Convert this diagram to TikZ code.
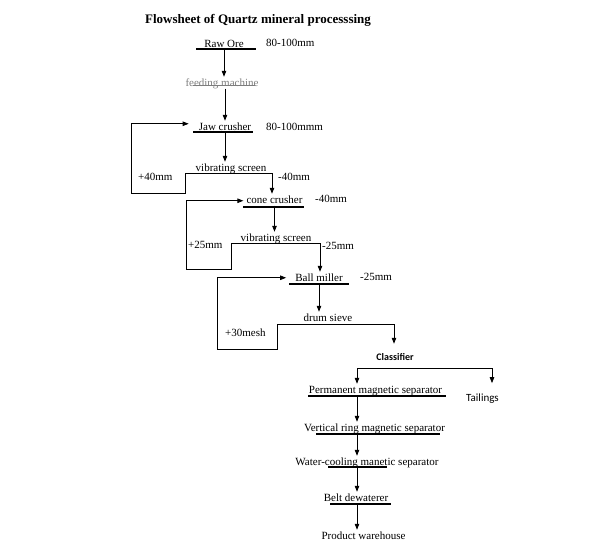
\documentclass[tikz,border=0pt]{standalone}
\usepackage{fontspec}
\setmainfont{Liberation Serif}
\newfontfamily\carlito{Carlito}
\usetikzlibrary{arrows.meta}
\newcommand{\tx}{\fontsize{11}{13}\selectfont}
\definecolor{grisfeed}{RGB}{125,125,125}
\tikzstyle{etape}=[font=\tx, inner xsep=1pt, inner ysep=1pt, text height=8pt, text depth=1.5pt, anchor=base]
\tikzstyle{taille}=[font=\tx, inner sep=0pt, anchor=base west]
\tikzstyle{souligne}=[line width=1.1pt]
\tikzstyle{trait}=[line width=0.8pt]
\tikzstyle{fleche}=[trait, -{Triangle[length=6pt,width=4.5pt]}]

\begin{document}
\begin{tikzpicture}[x=1pt,y=-1pt]
\useasboundingbox (0,0) rectangle (600,544);

\node[font=\fontsize{13}{15}\selectfont\bfseries] (titre) at (258,20) {Flowsheet of Quartz mineral processsing};

% crushing
\node[etape] (raw) at (224,47) {Raw Ore};
\node[taille] (rawmm) at (266,46) {80-100mm};
\node[etape,text=grisfeed] (feed) at (222,86) {feeding machine};
\node[etape] (jaw) at (225,130) {Jaw crusher};
\node[taille] (jawmm) at (266,130) {80-100mmm};
\node[etape] (vsa) at (231,171) {vibrating screen};
\node[taille] (vsaplus) at (138,180) {+40mm};
\node[taille] (vsamoins) at (278,180) {-40mm};
\node[etape] (cone) at (274.5,203) {cone crusher};
\node[taille] (conemm) at (315,202) {-40mm};
\node[etape] (vsb) at (276,241) {vibrating screen};
\node[taille] (vsbplus) at (188,248) {+25mm};
\node[taille] (vsbmoins) at (322,249) {-25mm};

% grinding
\node[etape] (ball) at (319,281) {Ball miller};
\node[taille] (ballmm) at (360,280) {-25mm};
\node[etape] (drum) at (328,321) {drum sieve};
\node[taille] (drumplus) at (225,336) {+30mesh};
\node[font=\carlito\fontsize{10}{12}\selectfont\bfseries, anchor=base, inner sep=1pt] (classif) at (395,360) {Classifier};

% separation
\node[etape] (perm) at (375.5,393) {Permanent magnetic separator};
\node[font=\carlito\fontsize{11}{13}\selectfont, anchor=base west, inner sep=1pt] (tail) at (465,401) {Tailings};
\node[etape] (vring) at (374.5,431) {Vertical ring magnetic separator};
\node[etape] (water) at (367,465) {Water-cooling manetic separator};
\node[etape] (belt) at (356,501) {Belt dewaterer};
\node[etape] (prod) at (363.5,539) {Product warehouse};

% underlines
\foreach \xa/\xb/\y in {196/256/49, 193/253/132, 243/304/207, 289/349/284,
  308/446/396, 316/440/434, 328/387/467, 330/391/504}
  \draw[souligne] (\xa,\y) -- (\xb,\y);
\draw[souligne,grisfeed] (193,85.5) -- (255,85.5);

% screens
\coordinate (sag) at (185,173);
\coordinate (sad) at (272,173);
\coordinate (sbg) at (231,243);
\coordinate (sbd) at (320,243);
\coordinate (scg) at (277,324);
\coordinate (scd) at (394,324);
\coordinate (bg) at (357,368);
\coordinate (bd) at (492,368);
\draw[trait] (sag) -- (sad);
\draw[trait] (sbg) -- (sbd);
\draw[trait] (scg) -- (scd);
\draw[trait] (bg) -- (bd);

\draw[fleche] (raw.south) -- (raw.south |- feed.north);
\draw[fleche] (jaw.north |- feed.south) -- (jaw.north);
\draw[fleche] (jaw.south) -- (jaw.south |- vsa.north);
\draw[fleche] (sad) -- (sad |- cone.north);
\draw[fleche] (cone.south) -- (cone.south |- vsb.north);
\draw[fleche] (sbd) -- (sbd |- ball.north);
\draw[fleche] (ball.south) -- (ball.south |- drum.north);
\draw[fleche] (scd) -- ([yshift=8pt]scd |- classif.north);

% returns
\draw[fleche] (sag) -- (185,193) -- (131,193) |- ([xshift=-9pt,yshift=3pt]jaw.west);
\draw[fleche] (sbg) -- (231,269) -- (186,269) |- ([xshift=-2pt,yshift=-1pt]cone.west);
\draw[fleche] (scg) -- (277,349) -- (217,349) |- ([xshift=-8pt]ball.west);

% classifier outputs
\draw[fleche] (bg) -- (bg |- perm.north);
\draw[fleche] (bd) -- ([yshift=9pt]bd |- tail.north);
\foreach \a/\b in {perm/vring, vring/water, water/belt, belt/prod}
  \draw[fleche] (bg |- \a.south) -- (bg |- \b.north);

\end{tikzpicture}
\end{document}
